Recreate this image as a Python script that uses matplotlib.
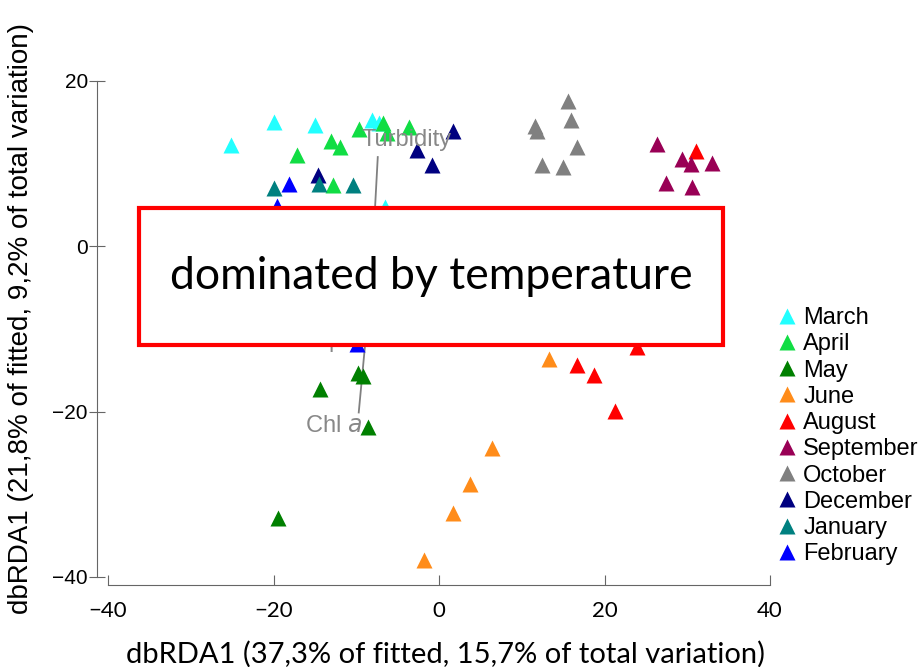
import matplotlib.pyplot as plt
from matplotlib.lines import Line2D
from matplotlib.patches import Rectangle

# month groups (dbRDA1 x, dbRDA2 y)
months = ["March", "April", "May", "June", "August", "September",
          "October", "December", "January", "February"]
colors = ["#22ffff", "#11dd44", "#008000", "#ff8c1a", "#ff0000", "#990055",
          "#808080", "#000080", "#008080", "#0000ff"]

march_x = [-25.1, -19.9, -15.0, -8.1, -7.2, -6.5]
march_y = [12.3, 15.0, 14.7, 15.3, 14.9, 4.7]
april_x = [-9.7, -6.8, -6.3, -3.6, -13.1, -12.0, -17.2, -12.8]
april_y = [14.2, 14.9, 13.7, 14.4, 12.8, 12.0, 11.0, 7.4]
may_x = [-14.4, -9.8, -9.2, -8.6, -19.5]
may_y = [-17.2, -15.3, -15.7, -21.9, -32.9]
june_x = [6.4, 3.7, 1.7, -1.8, 13.3]
june_y = [-24.4, -28.8, -32.3, -38.0, -13.6]
august_x = [16.7, 18.7, 21.3, 23.9, 31.1]
august_y = [-14.3, -15.6, -19.9, -12.2, 11.5]
september_x = [26.3, 29.4, 30.4, 33.0, 27.4, 30.6]
september_y = [12.4, 10.6, 10.0, 10.1, 7.7, 7.2]
october_x = [15.6, 15.9, 11.6, 11.9, 16.7, 12.4, 15.0]
october_y = [17.6, 15.3, 14.5, 13.9, 12.0, 9.8, 9.6]
december_x = [1.7, -2.6, -0.9, -14.6]
december_y = [14.0, 11.7, 9.8, 8.6]
january_x = [-19.9, -14.5, -10.4]
january_y = [7.0, 7.5, 7.4]
february_x = [-18.1, -19.6, -9.9]
february_y = [7.6, 4.9, -11.8]

xs = [march_x, april_x, may_x, june_x, august_x, september_x,
      october_x, december_x, january_x, february_x]
ys = [march_y, april_y, may_y, june_y, august_y, september_y,
      october_y, december_y, january_y, february_y]

# environmental vectors
vec_origin = (-8.2, -4.1)
vec_names = ["Turbidity", "pH", "Chl $\\it{a}$"]
vec_end_x = [-7.4, -10.0, -9.7]
vec_end_y = [10.8, -10.5, -20.1]
vec_label_x = [-3.9, -11.6, -12.8]
vec_label_y = [12.9, -11.4, -21.7]

fig = plt.figure(figsize=(9.24, 6.67), dpi=100)
ax = fig.add_axes([108 / 924, 90 / 667, 662 / 924, 496 / 667])
ax.set_xlim(-40, 40)
ax.set_ylim(-40, 20)

for ex, ey in zip(vec_end_x, vec_end_y):
    ax.plot([vec_origin[0], ex], [vec_origin[1], ey], color="#808080", lw=1.3, zorder=2)
for name, lx, ly in zip(vec_names, vec_label_x, vec_label_y):
    ax.text(lx, ly, name, color="#888888", fontsize=17, family="Liberation Sans",
            ha="center", va="center", zorder=4)

handles = []
for name, c, x, y in zip(months, colors, xs, ys):
    ax.plot(x, y, ls="none", marker="^", ms=11, color=c, mec="none",
            clip_on=False, zorder=3)
    handles.append(Line2D([], [], ls="none", marker="^", ms=11, color=c, mec="none"))

# PRIMER-style detached axes
for s in ["top", "right"]:
    ax.spines[s].set_visible(False)
ax.spines["left"].set_position(("outward", 8))
ax.spines["bottom"].set_position(("outward", 6))
ax.spines["left"].set_bounds(-40, 20)
ax.spines["bottom"].set_bounds(-40, 40)
for s in ["left", "bottom"]:
    ax.spines[s].set_color("#666666")
ax.set_xticks([-40, -20, 0, 20, 40])
ax.set_yticks([-40, -20, 0, 20])
ax.tick_params(axis="y", direction="inout", length=11, color="#666666", pad=1,
               labelsize=15)
ax.tick_params(axis="x", direction="in", length=7, color="#666666", pad=11,
               labelsize=16)
for lab in ax.get_yticklabels():
    lab.set_family("Liberation Sans")
for lab in ax.get_xticklabels():
    lab.set_family("Lato")

ax.set_xlabel("dbRDA1 (37,3% of fitted, 15,7% of total variation)",
              fontsize=21, family="Lato")
ax.xaxis.set_label_coords(0.51, -0.128)
ax.set_ylabel("dbRDA1 (21,8% of fitted, 9,2% of total variation)",
              fontsize=20, family="Liberation Sans")
ax.yaxis.set_label_coords(-0.112, 0.522)

fig.legend(handles, months, loc="upper left", bbox_to_anchor=(778 / 924, 1 - 307 / 667),
           frameon=False, handlelength=0.8, handletextpad=0.27,
           labelspacing=0.18, borderpad=0, borderaxespad=0,
           prop={"family": "Liberation Sans", "size": 17})

# overlay annotation box
fig.add_artist(Rectangle((139 / 924, 1 - 345 / 667), 584 / 924, 137 / 667,
                         transform=fig.transFigure, facecolor="white",
                         edgecolor="#ff0000", lw=3, zorder=10))
fig.text(431 / 924, 1 - 277 / 667, "dominated by temperature", fontsize=32,
         family="Lato", ha="center", va="center", zorder=11)

fig.savefig("out.png", dpi=100)
